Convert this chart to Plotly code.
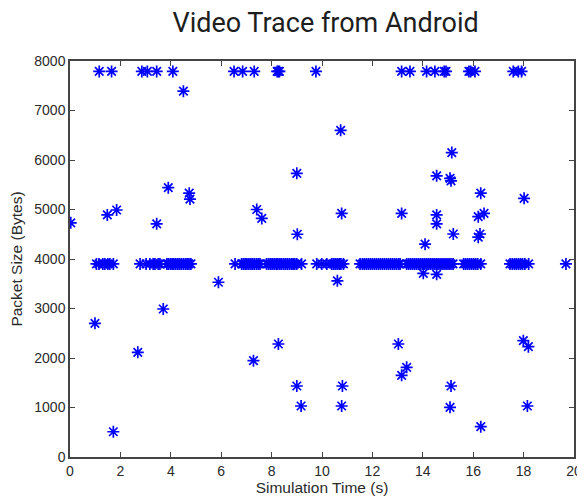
import plotly.graph_objects as go

# Top row (~7790 bytes)
top_x = [1.16, 1.65, 2.85, 3.07, 3.44, 4.08, 6.51, 6.85, 7.31, 8.22, 8.27, 8.31, 9.76,
         13.16, 13.49, 14.15, 14.48, 14.85, 14.92, 15.83, 15.9, 16.07, 17.59, 17.79, 17.92]
top_y = [7790] * len(top_x)

# Main row (~3900 bytes)
mid_x = [1.05, 1.15, 1.3, 1.38, 1.5, 1.58, 1.72,
         2.78, 3.02, 3.17, 3.3, 3.37, 3.5, 3.57, 3.84, 3.9, 3.98, 4.05, 4.12, 4.2, 4.28, 4.35,
         4.42, 4.5, 4.58, 4.65, 4.72, 4.8,
         6.55, 6.81, 6.88, 6.95, 7.02, 7.1, 7.18, 7.25, 7.32, 7.4, 7.47, 7.54, 7.8, 7.88, 7.95,
         8.02, 8.1, 8.18, 8.25, 8.33, 8.4, 8.48, 8.55, 8.62, 8.7, 8.78, 8.85, 8.92, 9.0, 9.19,
         9.79, 9.99, 10.19, 10.38, 10.45, 10.52, 10.6, 10.68, 10.75, 10.85,
         11.51, 11.6, 11.68, 11.76, 11.84, 11.92, 12.0, 12.08, 12.16, 12.24, 12.32, 12.4, 12.48,
         12.56, 12.64, 12.72, 12.8, 12.88, 12.96, 13.04, 13.1,
         13.36, 13.44, 13.52, 13.6, 13.68, 13.76, 13.84, 13.92, 14.0, 14.08, 14.16, 14.24, 14.32,
         14.4, 14.48, 14.56, 14.64, 14.72, 14.8, 14.88, 14.96, 15.04, 15.12, 15.2,
         15.62, 15.7, 15.78, 15.86, 15.94, 16.02, 16.1, 16.18, 16.3,
         17.46, 17.55, 17.64, 17.72, 17.8, 17.88, 17.96, 18.05, 18.2,
         19.68]
mid_y = [3900] * len(mid_x)

# Scattered packets
other_x = [0.03, 1.48, 1.85, 3.44, 3.90, 4.50, 4.73, 4.76, 3.70, 5.89, 0.99, 7.41, 7.61, 9.00, 9.02,
           1.72, 2.69, 7.28, 8.27, 9.00, 9.17,
           10.74, 10.78, 10.61, 10.81, 10.78,
           13.16, 13.03, 13.36, 13.16,
           15.15, 14.55, 15.08, 15.12, 16.30, 14.55, 14.55, 14.09, 15.21, 16.20, 16.43, 16.27, 16.20,
           18.02, 14.02, 14.55, 15.12, 15.08, 16.30, 17.99, 18.19, 18.15]
other_y = [4730, 4890, 4990, 4710, 5440, 7390, 5330, 5210, 2990, 3530, 2700, 5000, 4820, 5730, 4500,
           510, 2115, 1946, 2283, 1434, 1030,
           6600, 4920, 3560, 1434, 1030,
           4920, 2283, 1812, 1650,
           6150, 5680, 5630, 5580, 5330, 4890, 4710, 4300, 4505, 4855, 4920, 4505, 4440,
           5226, 3711, 3690, 1434, 1004, 612, 2350, 2228, 1030]

x_ticks = [0, 2, 4, 6, 8, 10, 12, 14, 16, 18, 20]
y_ticks = [0, 1000, 2000, 3000, 4000, 5000, 6000, 7000, 8000]

all_x = top_x + mid_x + other_x
all_y = top_y + mid_y + other_y

label_font = dict(family="Liberation Sans, Arial, sans-serif", size=14, color="#2a2a2a")
title_font = dict(family="Liberation Sans, Arial, sans-serif", size=15.5, color="#2a2a2a")

fig = go.Figure()
fig.add_trace(go.Scatter(
    x=all_x, y=all_y, mode="markers",
    marker=dict(symbol="asterisk-open", size=10, color="#0000ff",
                line=dict(color="#0000ff", width=1.7)),
    showlegend=False, hoverinfo="x+y"))

axis_common = dict(showgrid=False, zeroline=False, showline=True, linecolor="#444444",
                   linewidth=1.5, mirror="allticks", ticks="inside", ticklen=5,
                   tickcolor="#444444", tickwidth=1.2, automargin=False,
                   tickfont=label_font)

fig.update_layout(
    width=585, height=500,
    paper_bgcolor="white", plot_bgcolor="white",
    margin=dict(l=62, r=19, t=53, b=51),
    title=dict(text="Video Trace from Android", x=0.543, xanchor="center", y=1, yanchor="top",
               pad=dict(t=5, b=0, l=0, r=0),
               font=dict(family="Roboto, Open Sans, sans-serif", size=27, color="#1e1e1e")),
    xaxis=dict(range=[0, 20], tickvals=x_ticks,
               title=dict(text="Simulation Time (s)", standoff=4, font=title_font),
               **axis_common),
    yaxis=dict(range=[0, 8000], tickvals=y_ticks,
               title=dict(text="Packet Size (Bytes)", standoff=8, font=title_font),
               **axis_common),
)

fig.write_html("out.html")
